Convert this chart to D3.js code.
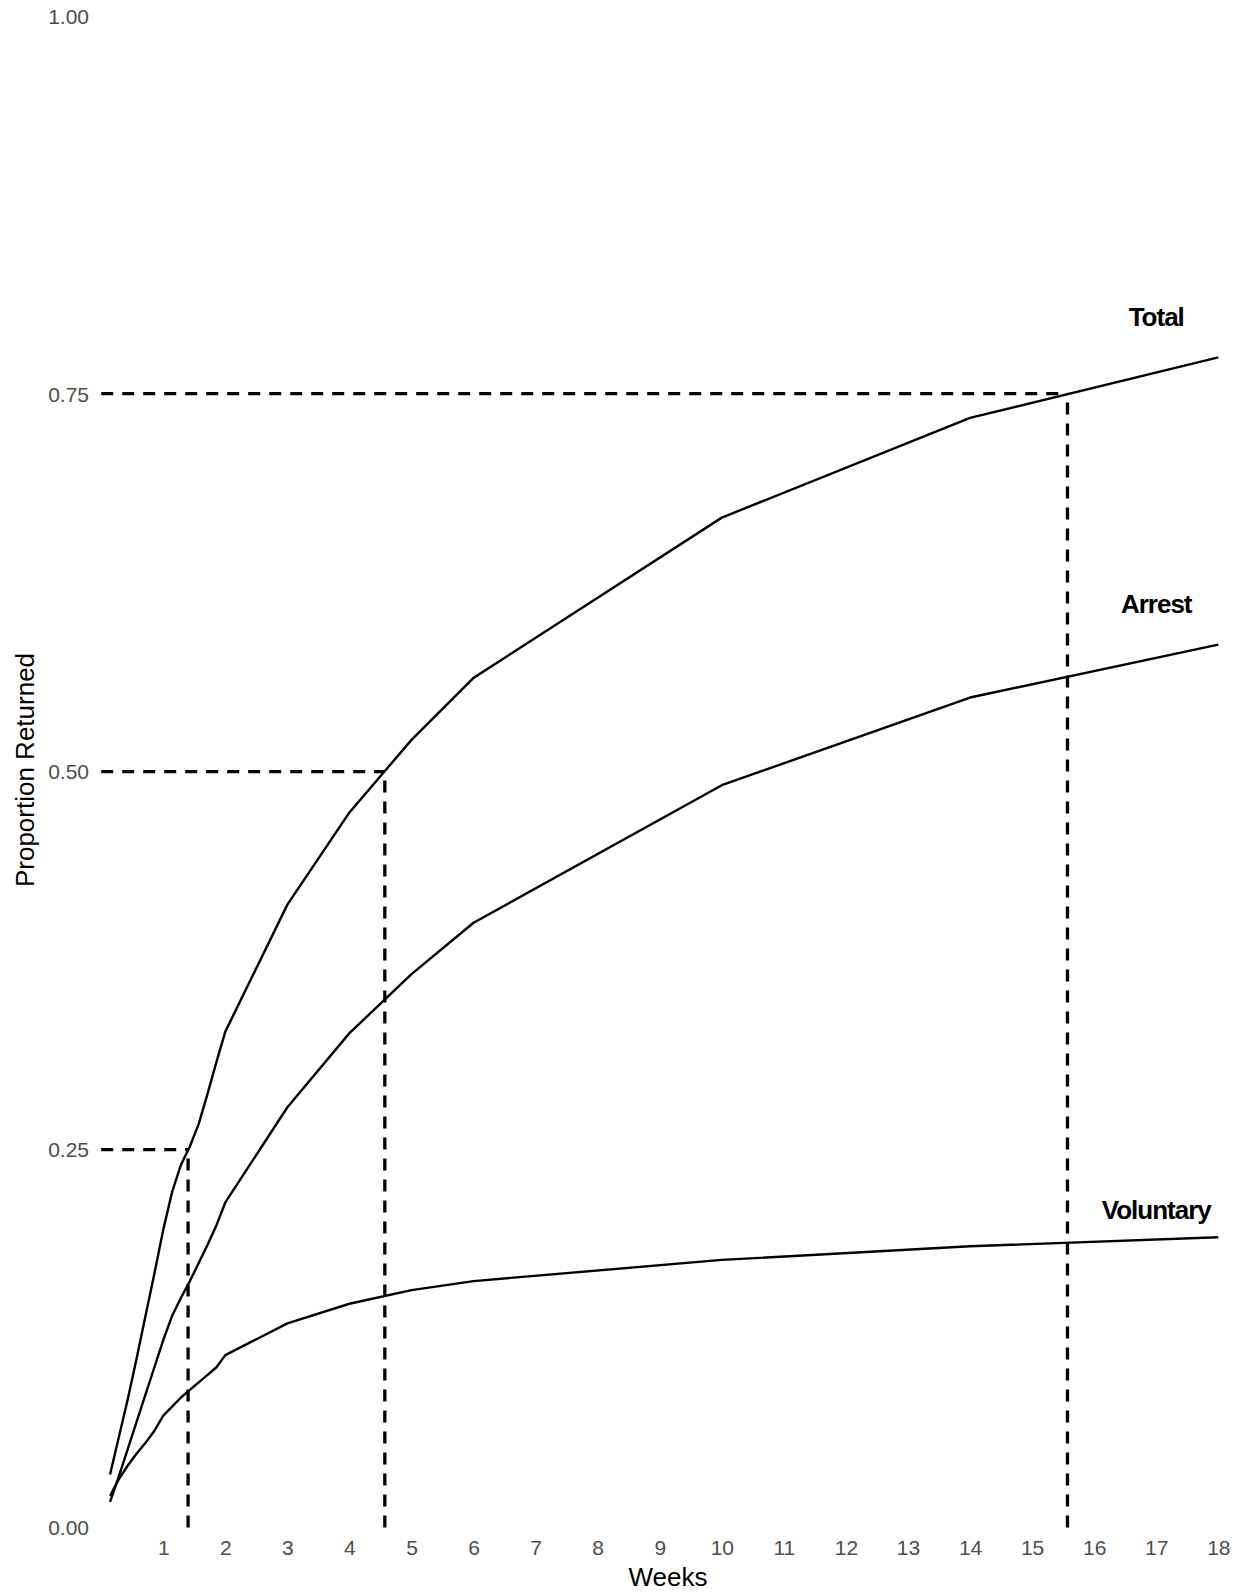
<!DOCTYPE html>
<html>
<head>
<meta charset="utf-8">
<script src="https://cdn.jsdelivr.net/npm/d3@7"></script>
<style>
  body { margin: 0; background: #ffffff; }
  svg { display: block; }
</style>
</head>
<body>
<div id="chart"></div>
<script>
// time points: daily for the first two weeks, then weekly / 4-weekly
const WEEKS = [1/7, 2/7, 3/7, 4/7, 5/7, 6/7, 1, 8/7, 9/7, 10/7, 11/7, 12/7, 13/7, 2, 3, 4, 5, 6, 10, 14, 18];

const TOTAL     = [0.035, 0.060, 0.085, 0.112, 0.140, 0.168, 0.197, 0.222, 0.240, 0.252, 0.267, 0.287, 0.308, 0.328, 0.412, 0.473, 0.521, 0.562, 0.668, 0.734, 0.774];
const ARREST    = [0.017, 0.034, 0.052, 0.070, 0.088, 0.106, 0.124, 0.140, 0.152, 0.163, 0.175, 0.187, 0.200, 0.215, 0.278, 0.327, 0.366, 0.400, 0.491, 0.549, 0.584];
const VOLUNTARY = [0.021, 0.032, 0.041, 0.049, 0.056, 0.064, 0.074, 0.080, 0.086, 0.091, 0.096, 0.101, 0.106, 0.114, 0.135, 0.148, 0.157, 0.163, 0.177, 0.186, 0.192];

const SERIES_NAMES = ["Total", "Arrest", "Voluntary"];
const LABEL_WEEK = 17;
const LABEL_PROP = [0.801, 0.611, 0.210];

// where Total crosses each quartile
const QUARTILE_PROP = [0.25, 0.50, 0.75];
const QUARTILE_WEEK = [1.40, 4.57, 15.57];

const X_TICKS = d3.range(1, 19);
const Y_TICKS = [0, 0.25, 0.5, 0.75, 1];

const width = 1244;
const height = 1593;
const FONT = "'Liberation Sans', Arial, Helvetica, sans-serif";

const x = d3.scaleLinear().domain([0, 18]).range([101.2, 1218.3]);
const y = d3.scaleLinear().domain([0, 1]).range([1527.5, 15.7]);

const svg = d3.select("#chart").append("svg")
    .attr("width", width)
    .attr("height", height)
    .style("font-family", FONT);

// quartile guide lines
const guides = svg.append("g")
    .attr("stroke", "#000")
    .attr("stroke-width", 3.3)
    .attr("stroke-dasharray", "12,9")
    .attr("fill", "none");

QUARTILE_PROP.forEach((p, i) => {
    guides.append("line")
        .attr("x1", x(0)).attr("x2", x(QUARTILE_WEEK[i]))
        .attr("y1", y(p)).attr("y2", y(p));
    guides.append("line")
        .attr("x1", x(QUARTILE_WEEK[i])).attr("x2", x(QUARTILE_WEEK[i]))
        .attr("y1", y(0)).attr("y2", y(p));
});

// curves
const line = d3.line()
    .x(d => x(d[0]))
    .y(d => y(d[1]));

[TOTAL, ARREST, VOLUNTARY].forEach(vals => {
    svg.append("path")
        .datum(WEEKS.map((w, i) => [w, vals[i]]))
        .attr("fill", "none")
        .attr("stroke", "#000")
        .attr("stroke-width", 2.4)
        .attr("stroke-linejoin", "round")
        .attr("d", line);
});

// series labels
svg.append("g")
    .selectAll("text")
    .data(SERIES_NAMES)
    .join("text")
    .attr("x", x(LABEL_WEEK))
    .attr("y", (d, i) => y(LABEL_PROP[i]))
    .attr("dy", "0.35em")
    .attr("text-anchor", "middle")
    .style("font-size", "26px")
    .style("font-weight", "bold")
    .style("letter-spacing", "-1px")
    .attr("fill", "#000")
    .text(d => d);

// axes (no lines, text only)
const xAxis = svg.append("g")
    .attr("transform", `translate(0,${y(0)})`)
    .call(d3.axisBottom(x).tickValues(X_TICKS).tickSize(0).tickPadding(0));
xAxis.select(".domain").remove();
xAxis.selectAll("text")
    .attr("y", 20)
    .attr("dy", "0.35em")
    .style("font-size", "21px")
    .style("font-family", FONT)
    .attr("fill", "#4d4d4d");

const yAxis = svg.append("g")
    .attr("transform", `translate(89,0)`)
    .call(d3.axisLeft(y).tickValues(Y_TICKS).tickFormat(d3.format(".2f")).tickSize(0).tickPadding(0));
yAxis.select(".domain").remove();
yAxis.selectAll("text")
    .attr("x", 0)
    .attr("dy", "0.35em")
    .style("font-size", "21px")
    .style("font-family", FONT)
    .attr("fill", "#4d4d4d");

// axis titles
svg.append("text")
    .attr("x", 668)
    .attr("y", 1586)
    .attr("text-anchor", "middle")
    .style("font-size", "26px")
    .attr("fill", "#000")
    .text("Weeks");

svg.append("text")
    .attr("transform", "translate(34,770) rotate(-90)")
    .attr("text-anchor", "middle")
    .style("font-size", "26px")
    .attr("fill", "#000")
    .text("Proportion Returned");
</script>
</body>
</html>
